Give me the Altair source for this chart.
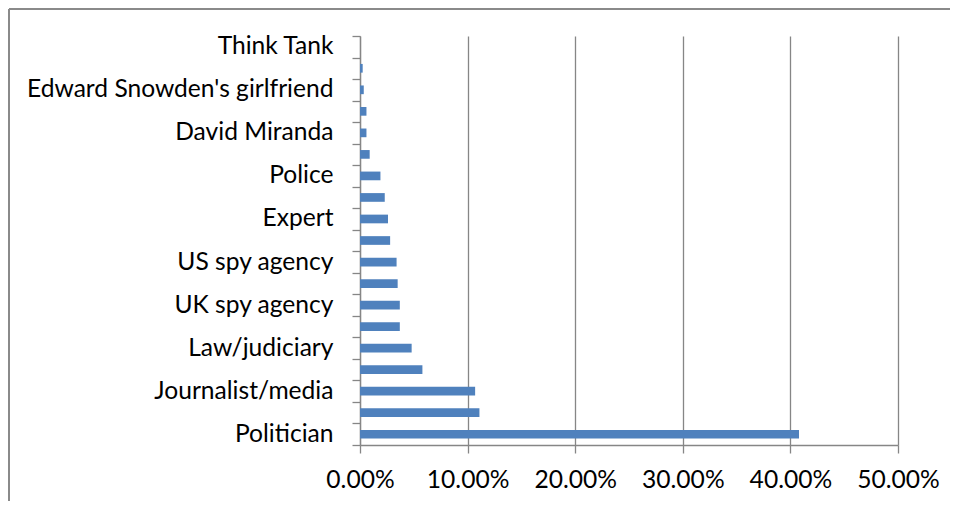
import json
import altair as alt
import pandas as pd

# Categories from bottom to top ("" = category whose label Excel skipped)
labels = ["Politician", "", "Journalist/media", "", "Law/judiciary", "",
          "UK spy agency", "", "US spy agency", "", "Expert", "", "Police", "",
          "David Miranda", "", "Edward Snowden's girlfriend", "", "Think Tank"]
# Share of sources, percent
shares = [40.8, 11.1, 10.7, 5.8, 4.8, 3.7, 3.7, 3.5, 3.4, 2.8, 2.6, 2.3,
          1.9, 0.9, 0.6, 0.6, 0.35, 0.25, 0.0]
x_ticks = [0, 0.1, 0.2, 0.3, 0.4, 0.5]

df = pd.DataFrame({
    "idx": list(range(len(labels))),
    "share": [s / 100 for s in shares],
})

GRAY = "#868686"
W, H = 538, 409
PAD = {"left": 352, "top": 28, "right": 52, "bottom": 56}

label_expr = json.dumps(labels) + "[datum.value]"

bars = alt.Chart(df).mark_bar(color="#4F81BD", size=8.7).encode(
    x=alt.X("share:Q",
            scale=alt.Scale(domain=[0, 0.5], nice=False),
            axis=alt.Axis(values=x_ticks, format=".2%", title=None,
                          grid=True, gridColor=GRAY, gridWidth=1.3,
                          domainColor=GRAY, domainWidth=1.3,
                          tickColor=GRAY, tickSize=8, tickWidth=1.3,
                          labelPadding=34, labelBaseline="alphabetic",
                          labelFlush=False)),
    y=alt.Y("idx:O", sort="descending",
            scale=alt.Scale(paddingInner=0, paddingOuter=0),
            axis=alt.Axis(title=None, labelExpr=label_expr, grid=False,
                          tickBand="extent", tickColor=GRAY, tickSize=8,
                          tickWidth=1.3, domainColor=GRAY, domainWidth=1.3,
                          labelPadding=19, labelLimit=400)),
)

frame = pd.DataFrame({"a": [0]})
top_border = alt.Chart(frame).mark_rule(color="#8a8a8a", strokeWidth=2).encode(
    x=alt.value(-PAD["left"] + 1), x2=alt.value(W + PAD["right"]), y=alt.value(-PAD["top"] + 1))
left_border = alt.Chart(frame).mark_rule(color="#8a8a8a", strokeWidth=2).encode(
    x=alt.value(-PAD["left"] + 1), y=alt.value(-PAD["top"] + 1), y2=alt.value(H + PAD["bottom"]))

chart = alt.layer(top_border, left_border, bars).properties(
    width=W, height=H, padding=PAD,
    autosize=alt.AutoSizeParams(type="none"),
).configure(
    font="Lato",
).configure_axis(
    labelFont="Lato", labelFontSize=24.6, labelColor="#000000",
).configure_view(stroke=None)

chart.save("out.html", embed_options={"renderer": "svg", "actions": False})
